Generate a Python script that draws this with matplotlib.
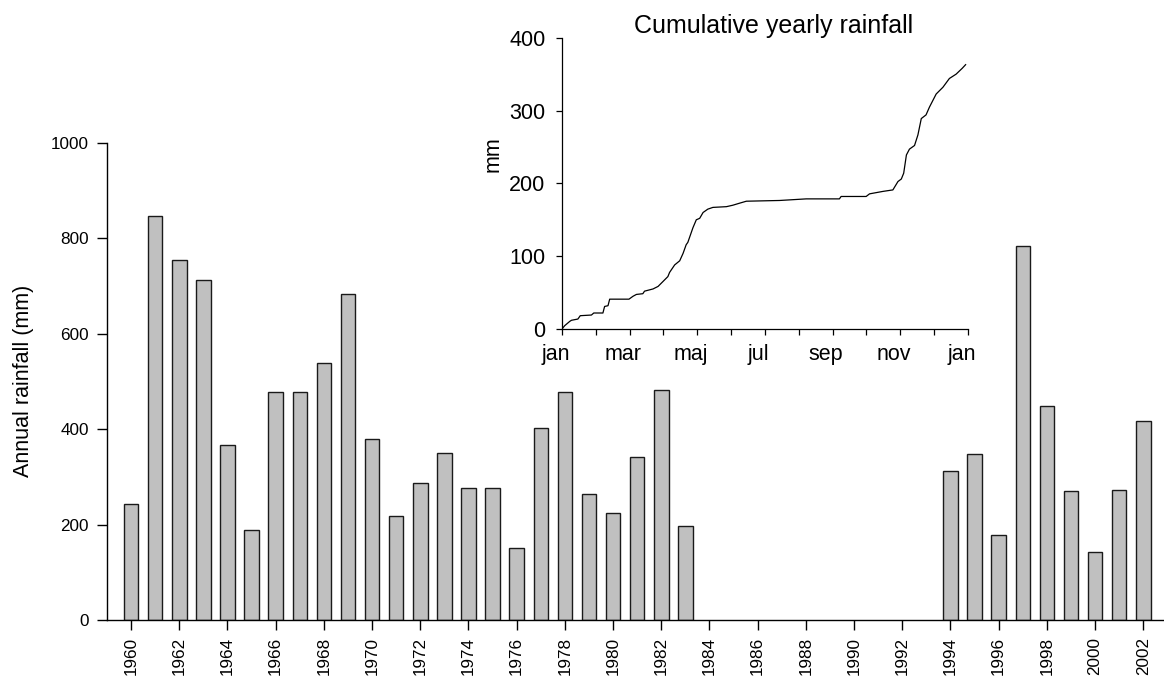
import numpy as np
import matplotlib
matplotlib.use("Agg")
import matplotlib.pyplot as plt
import matplotlib.transforms as mtransforms

plt.rcParams['font.family'] = ['Liberation Sans', 'DejaVu Sans']

# Annual rainfall (mm), 1984-1993 missing
years = list(range(1960, 2003))
rainfall = [243, 847, 755, 712, 366, 189, 477, 477, 539, 683,
            380, 218, 287, 349, 276, 276, 150, 403, 478, 264,
            225, 342, 482, 196, np.nan, np.nan, np.nan, np.nan, np.nan, np.nan,
            np.nan, np.nan, np.nan, np.nan, 313, 348, 178, 783, 448, 271,
            142, 272, 416]

# Cumulative yearly rainfall (months since 1 jan, mm)
cum_month = [0.0, 0.08, 0.23, 0.28, 0.47, 0.54, 0.87, 0.94, 1.21, 1.26,
             1.36, 1.41, 1.98, 2.1, 2.2, 2.39, 2.44, 2.69, 2.84, 2.98,
             3.13, 3.18, 3.33, 3.48, 3.58, 3.67, 3.72, 3.87, 3.97, 4.07,
             4.17, 4.31, 4.46, 4.86, 5.05, 5.25, 5.45, 6.43, 7.22, 8.2,
             8.25, 8.99, 9.09, 9.49, 9.78, 9.93, 10.03, 10.1, 10.18, 10.27,
             10.42, 10.52, 10.62, 10.76, 10.86, 11.06, 11.26, 11.45, 11.65, 11.83,
             11.93]
cum_mm = [0, 4.6, 10.5, 12, 13.7, 18.3, 19.2, 22, 22, 31,
          32, 41, 41, 45, 47.5, 48.5, 52, 55, 58.5, 65,
          72, 77.7, 88, 93.7, 104, 115.7, 119, 139, 150, 152,
          160, 164.6, 167, 168, 170, 172.8, 175.5, 176.5, 178.7, 178.7,
          182, 182, 185.6, 189, 191, 202.5, 206, 214, 239, 247,
          252, 266.5, 289, 294, 304.6, 322.7, 332, 344, 350, 358,
          363]
month_labels = ['jan', 'mar', 'maj', 'jul', 'sep', 'nov', 'jan']

fig = plt.figure(figsize=(11.64, 6.77), dpi=100)

# Main bar chart
ax = fig.add_axes([0.0919, 0.0842, 0.9081, 0.705])
ax.bar(years, rainfall, width=0.6, color='#c0c0c0', edgecolor='#1a1a1a', linewidth=1.0)
ax.set_xlim(1959, 2002.86)
ax.set_ylim(0, 1000)
ax.set_yticks(range(0, 1001, 200))
ax.set_xticks(range(1960, 2003, 2))
ax.set_xticklabels([str(y) for y in range(1960, 2003, 2)], rotation=90)
for s in ['top', 'right']:
    ax.spines[s].set_visible(False)
for s in ['left', 'bottom']:
    ax.spines[s].set_linewidth(1.0)
ax.tick_params(axis='y', direction='out', length=7, width=1, pad=6, labelsize=12.3)
ax.tick_params(axis='x', direction='out', length=7, width=1, pad=5, labelsize=12.3)
ax.set_ylabel('Annual rainfall (mm)', fontsize=15.5)
ax.yaxis.set_label_coords(-0.069, 0.5)

# Inset: cumulative yearly rainfall
ins = fig.add_axes([0.4828, 0.514, 0.3488, 0.4303])
ins.plot(cum_month, cum_mm, color='black', linewidth=0.9)
ins.set_xlim(0, 12)
ins.set_ylim(0, 400)
ins.set_yticks(range(0, 401, 100))
ins.set_xticks(range(0, 13, 2))
ins.set_xticks(range(0, 13), minor=True)
ins.set_xticklabels(month_labels)
for s in ['top', 'right']:
    ins.spines[s].set_visible(False)
for s in ['left', 'bottom']:
    ins.spines[s].set_linewidth(0.9)
ins.tick_params(axis='both', which='both', direction='out', length=4, width=0.9, labelsize=15.5)
ins.tick_params(axis='x', pad=7)
ins.tick_params(axis='y', pad=8)
offset = mtransforms.ScaledTranslation(-0.065, 0, fig.dpi_scale_trans)
for lbl in ins.get_xticklabels():
    lbl.set_transform(lbl.get_transform() + offset)
ins.set_ylabel('mm', fontsize=15.5)
ins.yaxis.set_label_coords(-0.143, 0.60)
ins.set_title('Cumulative yearly rainfall', fontsize=18, pad=3.4, x=0.522)

fig.savefig('out.png', dpi=100)
